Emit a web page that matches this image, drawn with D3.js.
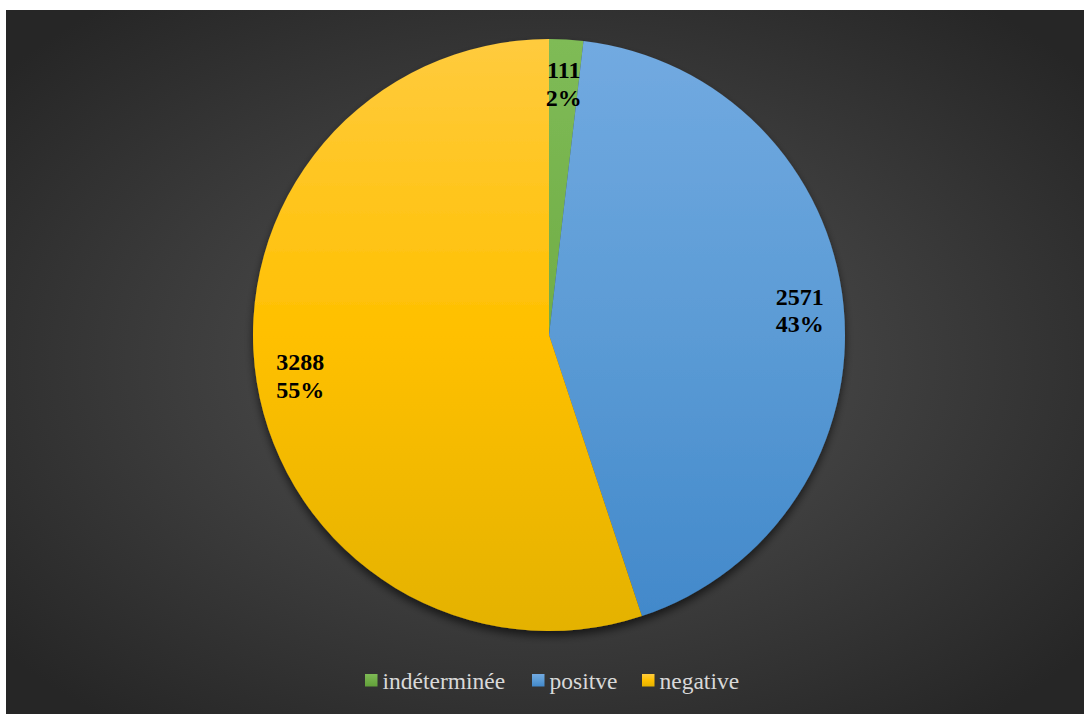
<!DOCTYPE html>
<html>
<head>
<meta charset="utf-8">
<script src="https://cdn.jsdelivr.net/npm/d3@7"></script>
<style>
  html, body { margin: 0; padding: 0; background: #ffffff; }
  svg { display: block; }
  .serif { font-family: "Liberation Serif", "Times New Roman", Times, serif; }
</style>
</head>
<body>
<svg id="chart" width="1084" height="714"></svg>
<script>
// Result categories and counts
const categories = ["indéterminée", "positve", "negative"];
const counts = [111, 2571, 3288];
const percentLabels = ["2%", "43%", "55%"];

const colorTop = ["#7fbb56", "#72aae1", "#ffcb3e"];
const colorMid = ["#70ad47", "#5b9bd5", "#ffc000"];
const colorBottom = ["#62a03a", "#4188ca", "#e4b200"];

const svg = d3.select("#chart");
const W = 1084, H = 714;
const cx = 549, cy = 335, radius = 296;

const defs = svg.append("defs");

// Dark radial background
const bg = defs.append("radialGradient").attr("id", "bg")
  .attr("cx", "50%").attr("cy", "50%").attr("r", "65%");
bg.append("stop").attr("offset", "0%").attr("stop-color", "#555555");
bg.append("stop").attr("offset", "100%").attr("stop-color", "#262626");

// Vertical gradients per slice, spanning the whole pie
function addGrad(id, i, userSpace) {
  const gr = defs.append("linearGradient").attr("id", id);
  if (userSpace) {
    gr.attr("gradientUnits", "userSpaceOnUse")
      .attr("x1", 0).attr("y1", -radius).attr("x2", 0).attr("y2", radius);
  } else {
    gr.attr("x1", 0).attr("y1", 0).attr("x2", 0).attr("y2", 1);
  }
  gr.append("stop").attr("offset", "0%").attr("stop-color", colorTop[i]);
  gr.append("stop").attr("offset", "50%").attr("stop-color", colorMid[i]);
  gr.append("stop").attr("offset", "100%").attr("stop-color", colorBottom[i]);
}
categories.forEach((c, i) => { addGrad("grad" + i, i, true); addGrad("legGrad" + i, i, false); });

// Soft drop shadow under the pie
const f = defs.append("filter").attr("id", "shadow")
  .attr("x", "-10%").attr("y", "-10%").attr("width", "120%").attr("height", "125%");
f.append("feGaussianBlur").attr("in", "SourceAlpha").attr("stdDeviation", 4).attr("result", "b");
f.append("feOffset").attr("in", "b").attr("dx", 0).attr("dy", 5).attr("result", "o");
f.append("feComponentTransfer").attr("in", "o").attr("result", "s")
  .append("feFuncA").attr("type", "linear").attr("slope", 0.6);
const m = f.append("feMerge");
m.append("feMergeNode").attr("in", "s");
m.append("feMergeNode").attr("in", "SourceGraphic");

svg.append("rect").attr("x", 6).attr("y", 10).attr("width", W - 6).attr("height", H - 10)
  .attr("fill", "url(#bg)");

const data = categories.map((c, i) => ({ name: c, value: counts[i], pct: percentLabels[i], i }));

const pie = d3.pie().value(d => d.value).sort(null);
const arcs = pie(data);
const arc = d3.arc().innerRadius(0).outerRadius(radius);
const labelArc = d3.arc().innerRadius(252).outerRadius(252);

const g = svg.append("g").attr("transform", `translate(${cx},${cy})`);
const slices = g.append("g").attr("filter", "url(#shadow)");
slices.selectAll("path").data(arcs).join("path")
  .attr("d", arc)
  .attr("fill", d => `url(#grad${d.data.i})`);

// Value and percentage labels
const lbl = g.selectAll("text.lbl").data(arcs).join("text")
  .attr("class", "lbl serif")
  .attr("transform", d => `translate(${labelArc.centroid(d)})`)
  .attr("text-anchor", "middle")
  .attr("font-weight", "bold")
  .attr("font-size", 24)
  .attr("fill", "#000");
lbl.append("tspan").attr("x", 0).attr("y", -5).text(d => d.data.value);
lbl.append("tspan").attr("x", 0).attr("y", 22.5).text(d => d.data.pct);

// Legend
const legendX = [365, 532, 642];
const leg = svg.append("g");
data.forEach((d, i) => {
  leg.append("rect").attr("x", legendX[i]).attr("y", 674).attr("width", 12.5).attr("height", 12.5)
    .attr("fill", `url(#legGrad${i})`);
  leg.append("text").attr("class", "serif").attr("x", legendX[i] + 17.5).attr("y", 689)
    .attr("font-size", 23.5)
    .attr("fill", "#d9d9d9")
    .text(d.name);
});
</script>
</body>
</html>
